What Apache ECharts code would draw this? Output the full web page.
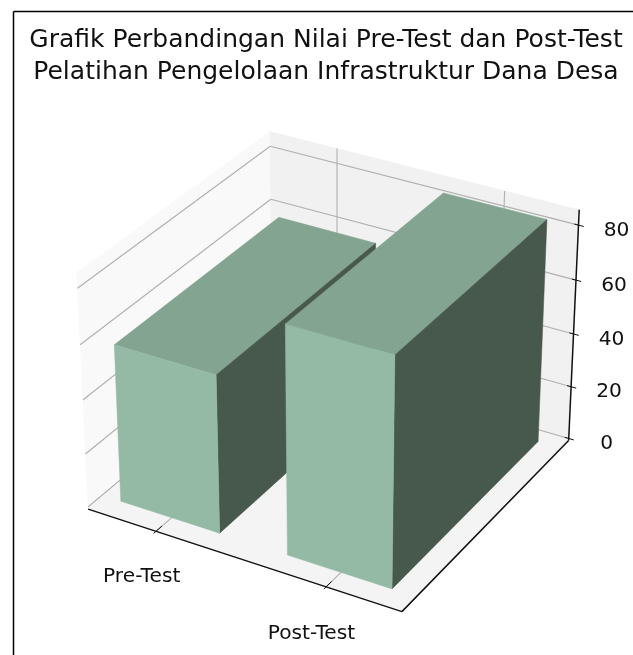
<!DOCTYPE html>
<html>
<head>
<meta charset="utf-8">
<title>Grafik Perbandingan Nilai</title>
<style>
  html, body { margin: 0; padding: 0; background: #fff; }
  #chart { width: 633px; height: 655px; }
</style>
<script src="https://cdn.jsdelivr.net/npm/echarts@6/dist/echarts.min.js"></script>
</head>
<body>
<div id="chart"></div>
<script>
const categories = ['Pre-Test', 'Post-Test']
const scores = [58, 83]
const zTicks = [0, 20, 40, 60, 80]

// axis limits of the 3d box, depth has no ticks so it runs 0..1
const xLim = [-0.4155, 1.428]
const yLim = [0, 1]
const zLim = [-0.81, 85.5]
const barWidth = 0.6
const barDepth = [0.071, 0.941]

// same camera as a default matplotlib 3d axes: elev 30, azim -60, dist 10
const box = [1.1905, 1.1905, 0.8929]
const viewU = [0.8660, 0.5, 0]
const viewV = [-0.25, 0.4330, 0.8660]
const viewN = [0.4330, -0.75, 0.5]
const dist = 10
const scale = 3020
const center = [332.8, 360]

const map = echarts.number.linearMap
const dot = (a, b) => a[0] * b[0] + a[1] * b[1] + a[2] * b[2]

function project (x, y, z) {
  const q = [
    map(x, xLim, [0, box[0]]) - box[0] / 2,
    map(y, yLim, [0, box[1]]) - box[1] / 2,
    map(z, zLim, [0, box[2]]) - box[2] / 2
  ]
  const d = dist - dot(viewN, q)
  return [center[0] + scale * dot(viewU, q) / d, center[1] - scale * dot(viewV, q) / d]
}

function face (points, fill) {
  return {
    type: 'polygon',
    shape: { points: points },
    style: { fill: fill, stroke: fill, lineWidth: 0.5 }
  }
}

function line (a, b, stroke, width) {
  return {
    type: 'line',
    shape: { x1: a[0], y1: a[1], x2: b[0], y2: b[1] },
    style: { stroke: stroke, lineWidth: width }
  }
}

function label (text, p) {
  return {
    type: 'text',
    x: p[0],
    y: p[1],
    style: {
      text: text,
      fill: '#111',
      font: '20.2px "DejaVu Sans"',
      textAlign: 'center',
      textVerticalAlign: 'middle'
    }
  }
}

const [x0, x1] = xLim
const [y0, y1] = yLim
const [z0, z1] = zLim

function renderPanes () {
  return {
    type: 'group',
    children: [
      face([project(x0, y0, z0), project(x0, y1, z0), project(x0, y1, z1), project(x0, y0, z1)], '#f9f9f9'),
      face([project(x0, y1, z0), project(x1, y1, z0), project(x1, y1, z1), project(x0, y1, z1)], '#f1f1f1'),
      face([project(x0, y0, z0), project(x1, y0, z0), project(x1, y1, z0), project(x0, y1, z0)], '#f4f4f4')
    ]
  }
}

function renderZGrid (params, api) {
  const v = api.value(0)
  return {
    type: 'group',
    children: [
      line(project(x0, y0, v), project(x0, y1, v), '#b0b0b0', 1.1),
      line(project(x0, y1, v), project(x1, y1, v), '#b0b0b0', 1.1)
    ]
  }
}

function renderXGrid (params, api) {
  const v = api.value(0)
  return {
    type: 'group',
    children: [
      line(project(v, y0, z0), project(v, y1, z0), '#b0b0b0', 1.1),
      line(project(v, y1, z0), project(v, y1, z1), '#b0b0b0', 1.1)
    ]
  }
}

function renderBar (params, api) {
  const c = api.value(0)
  const h = api.value(1)
  const l = c - barWidth / 2
  const r = c + barWidth / 2
  const f = barDepth[0]
  const b = barDepth[1]
  return {
    type: 'group',
    children: [
      face([project(l, f, h), project(r, f, h), project(r, b, h), project(l, b, h)], '#83a490'),
      face([project(r, f, 0), project(r, b, 0), project(r, b, h), project(r, f, h)], '#47594c'),
      face([project(l, f, 0), project(r, f, 0), project(r, f, h), project(l, f, h)], '#94baa5')
    ]
  }
}

function renderAxes () {
  return {
    type: 'group',
    children: [
      line(project(x0, y0, z0), project(x1, y0, z0), '#111', 1.5),
      line(project(x1, y0, z0), project(x1, y1, z0), '#111', 1.5),
      line(project(x1, y1, z0), project(x1, y1, z1), '#111', 1.5)
    ]
  }
}

function renderZTick (params, api) {
  const v = api.value(0)
  const p = project(x1, y1, v)
  return {
    type: 'group',
    children: [
      line(project(x1 - 0.024, y1, v), project(x1 + 0.03, y1, v), '#111', 1),
      label(String(v), [p[0] + 38, p[1] + 5.5])
    ]
  }
}

function renderXTick (params, api) {
  const c = api.value(0)
  const p = project(c, y0 - 0.078, z0 - 12)
  return {
    type: 'group',
    children: [
      line(project(c, y0 - 0.012, z0), project(c, y0 + 0.03, z0), '#111', 1),
      label(categories[params.dataIndex], p)
    ]
  }
}

function customSeries (data, renderItem) {
  return {
    type: 'custom',
    coordinateSystem: 'none',
    silent: true,
    data: data,
    renderItem: renderItem
  }
}

const chart = echarts.init(document.getElementById('chart'))
chart.setOption({
  animation: false,
  backgroundColor: '#fff',
  title: {
    text: 'Grafik Perbandingan Nilai Pre-Test dan Post-Test\nPelatihan Pengelolaan Infrastruktur Dana Desa',
    left: 321,
    top: 19,
    textAlign: 'center',
    textStyle: {
      color: '#111',
      fontFamily: 'DejaVu Sans',
      fontSize: 25,
      fontWeight: 'normal',
      lineHeight: 32
    }
  },
  graphic: [
    { type: 'line', shape: { x1: 13.5, y1: 11.5, x2: 633, y2: 11.5 }, style: { stroke: '#000', lineWidth: 1.5 } },
    { type: 'line', shape: { x1: 13.5, y1: 11.5, x2: 13.5, y2: 655 }, style: { stroke: '#000', lineWidth: 1.5 } }
  ],
  series: [
    customSeries([[0]], renderPanes),
    customSeries(zTicks.map(v => [v]), renderZGrid),
    customSeries(categories.map((c, i) => [i]), renderXGrid),
    customSeries([[0]], renderAxes),
    customSeries(zTicks.map(v => [v]), renderZTick),
    customSeries(categories.map((c, i) => [i]), renderXTick),
    customSeries(categories.map((c, i) => [i, scores[i]]), renderBar)
  ]
})
</script>
</body>
</html>
